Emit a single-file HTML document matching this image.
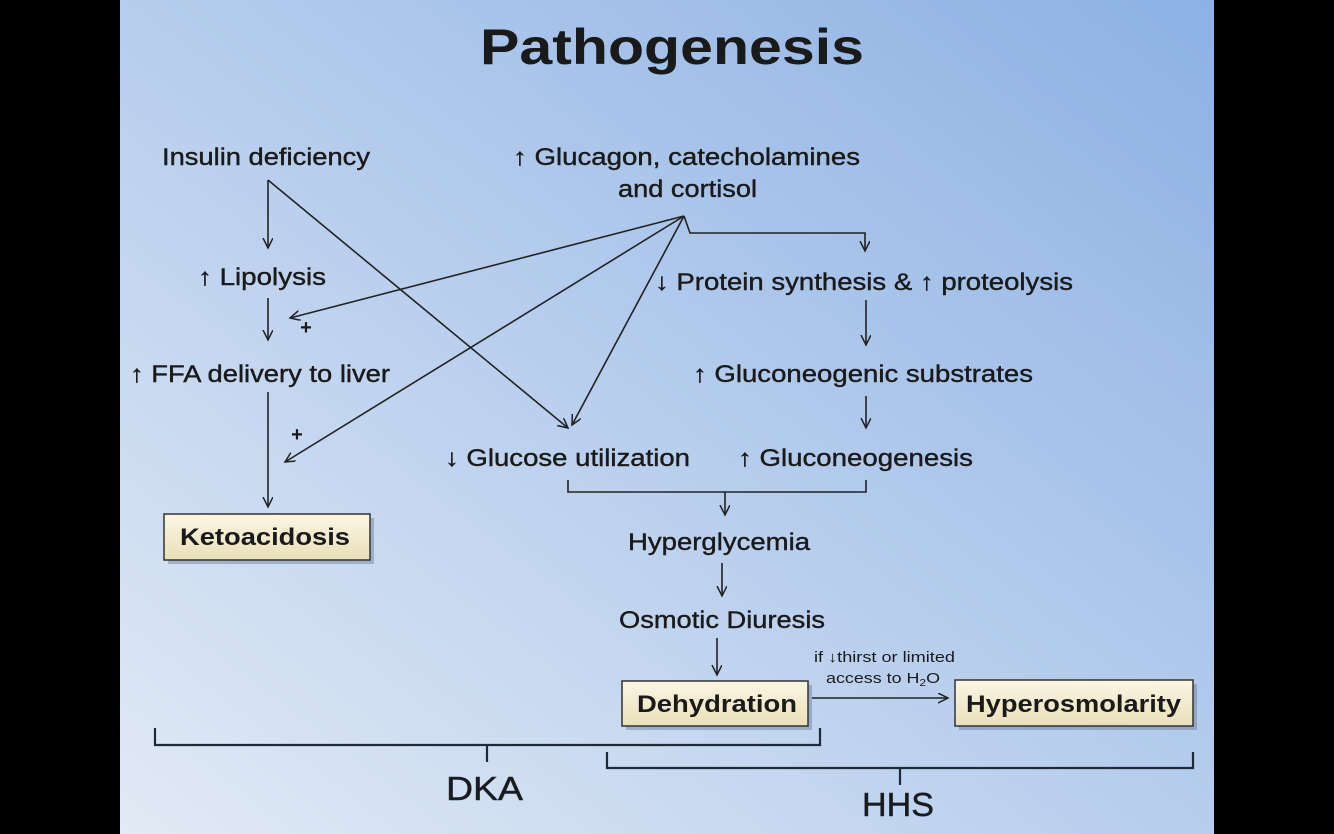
<!DOCTYPE html>
<html><head><meta charset="utf-8"><style>
html,body{margin:0;padding:0;background:#000;}
svg{display:block;}
text{font-family:"Liberation Sans",Arial,sans-serif;fill:#1a1a1a;}
</style></head><body>
<svg width="1334" height="834" viewBox="0 0 1334 834" xmlns="http://www.w3.org/2000/svg">
<defs>
<linearGradient id="bg" x1="0" y1="1" x2="1" y2="0">
<stop offset="0" stop-color="#e2eaf5"/>
<stop offset="0.5" stop-color="#b6cded"/>
<stop offset="1" stop-color="#8cb1e3"/>
</linearGradient>
<linearGradient id="box" x1="0" y1="0" x2="0" y2="1">
<stop offset="0" stop-color="#fbf6e4"/>
<stop offset="1" stop-color="#eadfb8"/>
</linearGradient>
<marker id="ah" markerWidth="12" markerHeight="12" refX="10" refY="5" orient="auto" markerUnits="userSpaceOnUse">
<path d="M0,0 L10,5 L0,10" fill="none" stroke="#222" stroke-width="1.5"/>
</marker>
</defs>
<rect x="0" y="0" width="1334" height="834" fill="#000"/>
<rect x="120" y="0" width="1094" height="834" fill="url(#bg)"/>
<text x="480" y="64" font-size="50" font-weight="bold" textLength="384" lengthAdjust="spacingAndGlyphs" fill="#111">Pathogenesis</text>

<g font-size="24" stroke="#1a1a1a" stroke-width="0.4">
<text x="162" y="165" textLength="208" lengthAdjust="spacingAndGlyphs">Insulin deficiency</text>
<text x="513" y="165" textLength="347" lengthAdjust="spacingAndGlyphs">↑ Glucagon, catecholamines</text>
<text x="618" y="197" textLength="139" lengthAdjust="spacingAndGlyphs">and cortisol</text>
<text x="198" y="285" textLength="128" lengthAdjust="spacingAndGlyphs">↑ Lipolysis</text>
<text x="130" y="382" textLength="260" lengthAdjust="spacingAndGlyphs">↑ FFA delivery to liver</text>
<text x="655" y="290" textLength="418" lengthAdjust="spacingAndGlyphs">↓ Protein synthesis &amp; ↑ proteolysis</text>
<text x="693" y="382" textLength="340" lengthAdjust="spacingAndGlyphs">↑ Gluconeogenic substrates</text>
<text x="445" y="466" textLength="245" lengthAdjust="spacingAndGlyphs">↓ Glucose utilization</text>
<text x="738" y="466" textLength="235" lengthAdjust="spacingAndGlyphs">↑ Gluconeogenesis</text>
<text x="628" y="550" textLength="182" lengthAdjust="spacingAndGlyphs">Hyperglycemia</text>
<text x="619" y="628" textLength="206" lengthAdjust="spacingAndGlyphs">Osmotic Diuresis</text>
</g>
<g font-size="20" font-weight="bold">
<text x="306" y="334" text-anchor="middle">+</text>
<text x="297" y="441" text-anchor="middle">+</text>
</g>

<g stroke="#222" stroke-width="1.6" fill="none">
<line x1="268" y1="180" x2="268" y2="248" marker-end="url(#ah)"/>
<line x1="268" y1="180" x2="568" y2="428" marker-end="url(#ah)"/>
<line x1="268" y1="298" x2="268" y2="340" marker-end="url(#ah)"/>
<line x1="268" y1="392" x2="268" y2="507" marker-end="url(#ah)"/>
<line x1="684" y1="216" x2="290" y2="318" marker-end="url(#ah)"/>
<line x1="684" y1="216" x2="285" y2="462" marker-end="url(#ah)"/>
<line x1="684" y1="216" x2="572" y2="425" marker-end="url(#ah)"/>
<polyline points="684,216 690,233 865,233 865,251" marker-end="url(#ah)"/>
<line x1="866" y1="300" x2="866" y2="345" marker-end="url(#ah)"/>
<line x1="866" y1="396" x2="866" y2="428" marker-end="url(#ah)"/>
<polyline points="568,480 568,492 866,492 866,480"/>
<line x1="725" y1="492" x2="725" y2="515" marker-end="url(#ah)"/>
<line x1="722" y1="563" x2="722" y2="596" marker-end="url(#ah)"/>
<line x1="717" y1="638" x2="717" y2="675" marker-end="url(#ah)"/>
<line x1="812" y1="698" x2="948" y2="698" marker-end="url(#ah)"/>
</g>

<g stroke="#1e2a3a" stroke-width="2.2" fill="none">
<polyline points="155,728 155,745 820,745 820,728"/>
<line x1="487" y1="745" x2="487" y2="762"/>
<polyline points="607,752 607,768 1193,768 1193,752"/>
<line x1="900" y1="768" x2="900" y2="785"/>
</g>
<text x="446" y="800" font-size="33" textLength="77" lengthAdjust="spacingAndGlyphs" fill="#1e2a3a" stroke="#1e2a3a" stroke-width="0.5">DKA</text>
<text x="862" y="816" font-size="33" textLength="72" lengthAdjust="spacingAndGlyphs" fill="#1e2a3a" stroke="#1e2a3a" stroke-width="0.5">HHS</text>

<text x="814" y="662" font-size="15" textLength="141" lengthAdjust="spacingAndGlyphs">if ↓thirst or limited</text>
<text x="826" y="683" font-size="15" textLength="114" lengthAdjust="spacingAndGlyphs">access to H<tspan font-size="10" dy="3">2</tspan><tspan dy="-3">O</tspan></text>

<g>
<rect x="168" y="518" width="206" height="46" fill="#6a7a90" opacity="0.45"/>
<rect x="164" y="514" width="206" height="46" fill="url(#box)" stroke="#333" stroke-width="1.5"/>
<text x="180" y="545" font-size="24" font-weight="bold" textLength="170" lengthAdjust="spacingAndGlyphs">Ketoacidosis</text>
<rect x="626" y="685" width="186" height="45" fill="#6a7a90" opacity="0.45"/>
<rect x="622" y="681" width="186" height="45" fill="url(#box)" stroke="#333" stroke-width="1.5"/>
<text x="637" y="712" font-size="24" font-weight="bold" textLength="160" lengthAdjust="spacingAndGlyphs">Dehydration</text>
<rect x="959" y="684" width="238" height="46" fill="#6a7a90" opacity="0.45"/>
<rect x="955" y="680" width="238" height="46" fill="url(#box)" stroke="#333" stroke-width="1.5"/>
<text x="966" y="712" font-size="24" font-weight="bold" textLength="215" lengthAdjust="spacingAndGlyphs">Hyperosmolarity</text>
</g>
</svg>
</body></html>
